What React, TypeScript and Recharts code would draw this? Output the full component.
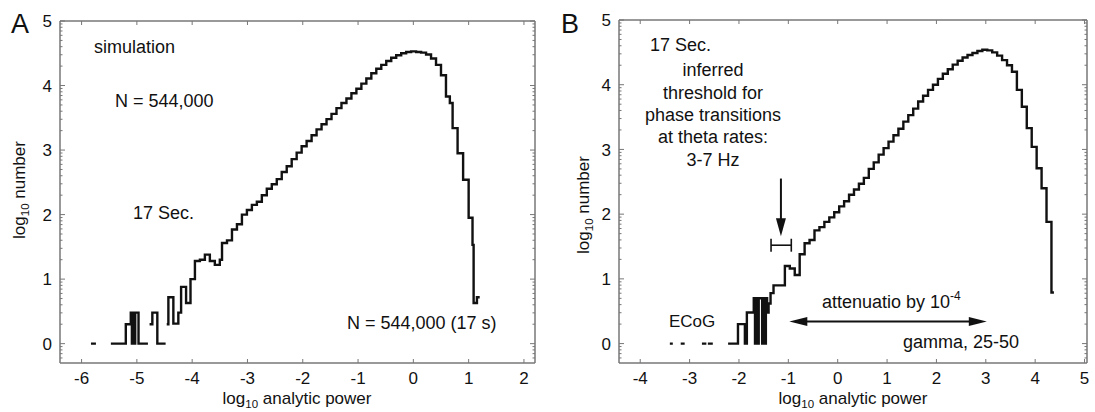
import { LineChart, Line, XAxis, YAxis, ReferenceLine } from 'recharts'

const FONT = "'Liberation Sans', Arial, Helvetica, sans-serif"
const AXIS = '#777'
const INK = '#111'

// Panel A: simulation. Bin left edges and log10 counts (null = empty bin)
const binStartA = [
  -5.83, -5.74, -5.47, -5.2, -5.11, -5.09, -5.07, -5.05, -5.03, -4.97, -4.8,
  -4.77, -4.72, -4.63, -4.48,
  -4.46, -4.43, -4.34, -4.25, -4.2, -4.11, -4.03, -3.95, -3.86, -3.77,
  -3.68, -3.59, -3.5, -3.46, -3.37, -3.28, -3.19, -3.1, -3.01, -2.92,
  -2.83, -2.74, -2.65, -2.56, -2.47, -2.38, -2.29, -2.2, -2.11, -2.02,
  -1.93, -1.84, -1.75, -1.66, -1.57, -1.48, -1.39, -1.3, -1.21, -1.12,
  -1.03, -0.94, -0.85, -0.76, -0.67, -0.58, -0.49, -0.4, -0.31, -0.22,
  -0.13, -0.04, 0.05, 0.14, 0.23, 0.32, 0.41, 0.5, 0.59, 0.66,
  0.71, 0.8, 0.9, 1.0, 1.07, 1.09, 1.15, 1.2,
]
const logCountA = [
  0, null, 0, 0.3, 0.48, 0, 0.48, 0, 0.48, 0, null,
  0.3, 0.48, 0, null,
  0.3, 0.72, 0.31, 0.48, 0.88, 0.63, 1.0, 1.28, 1.3, 1.38,
  1.28, 1.22, 1.3, 1.56, 1.6, 1.77, 1.85, 2.0, 2.07, 2.15,
  2.2, 2.3, 2.4, 2.47, 2.55, 2.66, 2.75, 2.86, 2.96, 3.06,
  3.14, 3.23, 3.32, 3.4, 3.48, 3.56, 3.65, 3.73, 3.8, 3.88,
  3.95, 4.03, 4.11, 4.19, 4.26, 4.32, 4.38, 4.43, 4.47, 4.5,
  4.52, 4.53, 4.52, 4.51, 4.48, 4.42, 4.32, 4.16, 3.83, 3.73,
  3.34, 2.95, 2.54, 1.95, 1.53, 0.63, 0.72, null,
]

// Panel B: ECoG
const binStartB = [
  -3.4, -3.34, -3.18, -3.1, -2.75, -2.66, -2.63, -2.53,
  -2.22, -2.02, -1.88, -1.84, -1.7, -1.675, -1.65, -1.625, -1.6, -1.53,
  -1.505, -1.48, -1.455, -1.43, -1.4, -1.36, -1.3,
  -1.07, -0.97, -0.87, -0.77, -0.67, -0.57, -0.47, -0.37, -0.27, -0.17,
  -0.07, 0.03, 0.13, 0.23, 0.33, 0.43, 0.53, 0.63, 0.73, 0.83,
  0.93, 1.03, 1.13, 1.23, 1.33, 1.43, 1.53, 1.63, 1.73, 1.83,
  1.93, 2.03, 2.13, 2.23, 2.33, 2.43, 2.53, 2.63, 2.73, 2.83,
  2.93, 3.03, 3.13, 3.23, 3.33, 3.43, 3.53, 3.63, 3.73, 3.83,
  3.93, 4.03, 4.13, 4.23, 4.33, 4.38,
]
const logCountB = [
  0, null, 0, null, 0, null, 0, null,
  0, 0.3, 0, 0.48, 0.7, 0, 0.7, 0, 0.7, 0,
  0.7, 0, 0.7, 0.48, 0.62, 0.78, 0.9,
  1.2, 1.16, 1.06, 1.38, 1.55, 1.6, 1.75, 1.8, 1.88, 1.95,
  2.03, 2.12, 2.2, 2.3, 2.38, 2.47, 2.56, 2.7, 2.8, 2.92,
  3.02, 3.12, 3.22, 3.32, 3.43, 3.53, 3.63, 3.74, 3.83, 3.92,
  4.0, 4.09, 4.17, 4.24, 4.31, 4.37, 4.42, 4.46, 4.49, 4.52,
  4.54, 4.53, 4.5, 4.45, 4.38, 4.3, 4.2, 3.92, 3.66, 3.33,
  3.04, 2.71, 2.4, 1.88, 0.79, null,
]

const xTicksA = [-6, -5, -4, -3, -2, -1, 0, 1, 2]
const xTicksB = [-4, -3, -2, -1, 0, 1, 2, 3, 4, 5]
const yTicks = [0, 1, 2, 3, 4, 5]
const Y_DOMAIN: [number, number] = [-0.3, 5]

// log-spaced minor ticks on the y frame
const yMinor: number[] = []
for (let d = -1; d < 5; d++) {
  for (let m = 2; m <= 9; m++) {
    const v = d + Math.log10(m)
    if (v > Y_DOMAIN[0] && v < Y_DOMAIN[1]) yMinor.push(v)
  }
}
const yAllTicks = [...yTicks, ...yMinor].sort((a, b) => a - b)

// step outline: each run of filled bins is closed at the next edge
function toSteps(starts: number[], counts: (number | null)[]) {
  const pts: { x: number; y: number | null }[] = []
  for (let i = 0; i < counts.length; i++) {
    const v = counts[i]
    if (v == null) continue
    pts.push({ x: starts[i], y: v })
    if (counts[i + 1] == null) {
      pts.push({ x: starts[i + 1], y: v })
      pts.push({ x: starts[i + 1], y: null })
    }
  }
  return pts
}

const dataA = toSteps(binStartA, logCountA)
const dataB = toSteps(binStartB, logCountB)

const LeftTick = ({ x, y, payload }: any) => {
  const major = yTicks.includes(payload.value)
  return (
    <g>
      <line x1={x} x2={x + (major ? 5 : 2.5)} y1={y} y2={y} stroke={AXIS} strokeWidth={1} />
      {major && (
        <text x={x - 8} y={y} dy="0.36em" textAnchor="end" fontSize={17} fontFamily={FONT} fill={INK}>
          {payload.value}
        </text>
      )}
    </g>
  )
}

const RightTick = ({ x, y, payload }: any) => {
  const major = yTicks.includes(payload.value)
  return <line x1={x} x2={x - (major ? 5 : 2.5)} y1={y} y2={y} stroke={AXIS} strokeWidth={1} />
}

const BottomTick = ({ x, y, payload }: any) => (
  <g>
    <line x1={x} x2={x} y1={y} y2={y - 4} stroke={AXIS} strokeWidth={1} />
    <text x={x} y={y + 20.5} textAnchor="middle" fontSize={17} fontFamily={FONT} fill={INK}>
      {payload.value}
    </text>
  </g>
)

const TopTick = ({ x, y }: any) => (
  <line x1={x} x2={x} y1={y} y2={y + 4} stroke={AXIS} strokeWidth={1} />
)

function arrowShape(both: boolean, len: number, half: number) {
  return (p: any) => {
    const { x1, y1, x2, y2 } = p
    const d = Math.hypot(x2 - x1, y2 - y1) || 1
    const ux = (x2 - x1) / d
    const uy = (y2 - y1) / d
    const head = (tx: number, ty: number, sx: number, sy: number) => {
      const bx = tx - sx * len
      const by = ty - sy * len
      return `${tx},${ty} ${bx - sy * half},${by + sx * half} ${bx + sy * half},${by - sx * half}`
    }
    return (
      <g>
        <line
          x1={both ? x1 + ux * (len - 2) : x1}
          y1={both ? y1 + uy * (len - 2) : y1}
          x2={x2 - ux * (len - 2)}
          y2={y2 - uy * (len - 2)}
          stroke={INK}
          strokeWidth={2}
        />
        <polygon points={head(x2, y2, ux, uy)} fill={INK} />
        {both && <polygon points={head(x1, y1, -ux, -uy)} fill={INK} />}
      </g>
    )
  }
}

const frameAxes = (ticks: number[], domain: [number, number]) => [
  <XAxis
    key="xb"
    dataKey="x"
    type="number"
    domain={domain}
    allowDataOverflow
    ticks={ticks}
    interval={0}
    height={1}
    tickSize={0}
    tickMargin={0}
    tickLine={false}
    axisLine={{ stroke: AXIS, strokeWidth: 1.5 }}
    tick={BottomTick}
  />,
  <XAxis
    key="xt"
    xAxisId="top"
    orientation="top"
    dataKey="x"
    type="number"
    domain={domain}
    allowDataOverflow
    ticks={ticks}
    interval={0}
    height={1}
    tickSize={0}
    tickMargin={0}
    tickLine={false}
    axisLine={{ stroke: AXIS, strokeWidth: 1.5 }}
    tick={TopTick}
  />,
  <YAxis
    key="yl"
    type="number"
    domain={Y_DOMAIN}
    allowDataOverflow
    ticks={yAllTicks}
    interval={0}
    width={1}
    tickSize={0}
    tickMargin={0}
    tickLine={false}
    axisLine={{ stroke: AXIS, strokeWidth: 1.5 }}
    tick={LeftTick}
  />,
  <YAxis
    key="yr"
    yAxisId="right"
    orientation="right"
    type="number"
    domain={Y_DOMAIN}
    allowDataOverflow
    ticks={yAllTicks}
    interval={0}
    width={1}
    tickSize={0}
    tickMargin={0}
    tickLine={false}
    axisLine={{ stroke: AXIS, strokeWidth: 1.5 }}
    tick={RightTick}
  />,
]

const txt = { fontFamily: FONT, fill: INK }

export default function App() {
  return (
    <div style={{ position: 'absolute', left: 0, top: 0, width: 1095, height: 412, background: '#fff' }}>
      <div style={{ position: 'absolute', left: 0, top: 0 }}>
        <LineChart width={545} height={412} data={dataA} margin={{ top: 20, right: 9, bottom: 48, left: 59 }}>
          {frameAxes(xTicksA, [-6.39, 2.2])}
          <Line
            dataKey="y"
            type="stepAfter"
            stroke={INK}
            strokeWidth={2.4}
            dot={false}
            activeDot={false}
            connectNulls={false}
            isAnimationActive={false}
          />
        </LineChart>
      </div>
      <div style={{ position: 'absolute', left: 545, top: 0 }}>
        <LineChart width={550} height={412} data={dataB} margin={{ top: 19, right: 7, bottom: 48, left: 73 }}>
          {frameAxes(xTicksB, [-4.43, 5.05])}
          <Line
            dataKey="y"
            type="stepAfter"
            stroke={INK}
            strokeWidth={2.4}
            dot={false}
            activeDot={false}
            connectNulls={false}
            isAnimationActive={false}
          />
          {/* inferred threshold marker */}
          <ReferenceLine segment={[{ x: -1.15, y: 2.55 }, { x: -1.15, y: 1.66 }]} shape={arrowShape(false, 18, 5)} />
          <ReferenceLine segment={[{ x: -1.35, y: 1.52 }, { x: -0.94, y: 1.52 }]} stroke={INK} strokeWidth={1.6} />
          <ReferenceLine segment={[{ x: -1.35, y: 1.42 }, { x: -1.35, y: 1.62 }]} stroke={INK} strokeWidth={1.6} />
          <ReferenceLine segment={[{ x: -0.94, y: 1.42 }, { x: -0.94, y: 1.62 }]} stroke={INK} strokeWidth={1.6} />
          {/* attenuation span */}
          <ReferenceLine segment={[{ x: -0.98, y: 0.34 }, { x: 3.02, y: 0.34 }]} shape={arrowShape(true, 18, 4.5)} />
        </LineChart>
      </div>
      <svg width={1095} height={412} style={{ position: 'absolute', left: 0, top: 0, pointerEvents: 'none' }}>
        <text x={11} y={33} fontSize={27} {...txt}>A</text>
        <text x={561} y={33} fontSize={27} {...txt}>B</text>

        <text x={94} y={53} fontSize={18} {...txt}>simulation</text>
        <text x={115} y={106.5} fontSize={18} {...txt}>N = 544,000</text>
        <text x={133} y={218.5} fontSize={18} {...txt}>17 Sec.</text>
        <text x={347} y={329} fontSize={18} {...txt}>N = 544,000 (17 s)</text>

        <text x={650} y={51} fontSize={18} {...txt}>17 Sec.</text>
        <g textAnchor="middle">
          <text x={713} y={76} fontSize={18} {...txt}>inferred</text>
          <text x={713} y={99} fontSize={18} {...txt}>threshold for</text>
          <text x={713} y={121} fontSize={18} {...txt}>phase transitions</text>
          <text x={713} y={143} fontSize={18} {...txt}>at theta rates:</text>
          <text x={713} y={166} fontSize={18} {...txt}>3-7 Hz</text>
        </g>
        <text x={669} y={326.5} fontSize={17} {...txt}>ECoG</text>
        <text x={822} y={308} fontSize={18} {...txt}>
          attenuatio by 10<tspan fontSize={12} dy={-8}>-4</tspan>
        </text>
        <text x={903} y={348} fontSize={18} {...txt}>gamma, 25-50</text>

        <text x={297} y={404} fontSize={17} textAnchor="middle" {...txt}>
          log<tspan fontSize={11.5} dy={4}>10</tspan><tspan dy={-4}> analytic power</tspan>
        </text>
        <text x={853} y={404} fontSize={17} textAnchor="middle" {...txt}>
          log<tspan fontSize={11.5} dy={4}>10</tspan><tspan dy={-4}> analytic power</tspan>
        </text>

        <text transform="rotate(-90)" x={-190} y={25} fontSize={17} textAnchor="middle" {...txt}>
          log<tspan fontSize={11.5} dy={4}>10</tspan><tspan dy={-4}> number</tspan>
        </text>
        <text transform="rotate(-90)" x={-205} y={589} fontSize={17} textAnchor="middle" {...txt}>
          log<tspan fontSize={11.5} dy={4}>10</tspan><tspan dy={-4}> number</tspan>
        </text>
      </svg>
    </div>
  )
}
